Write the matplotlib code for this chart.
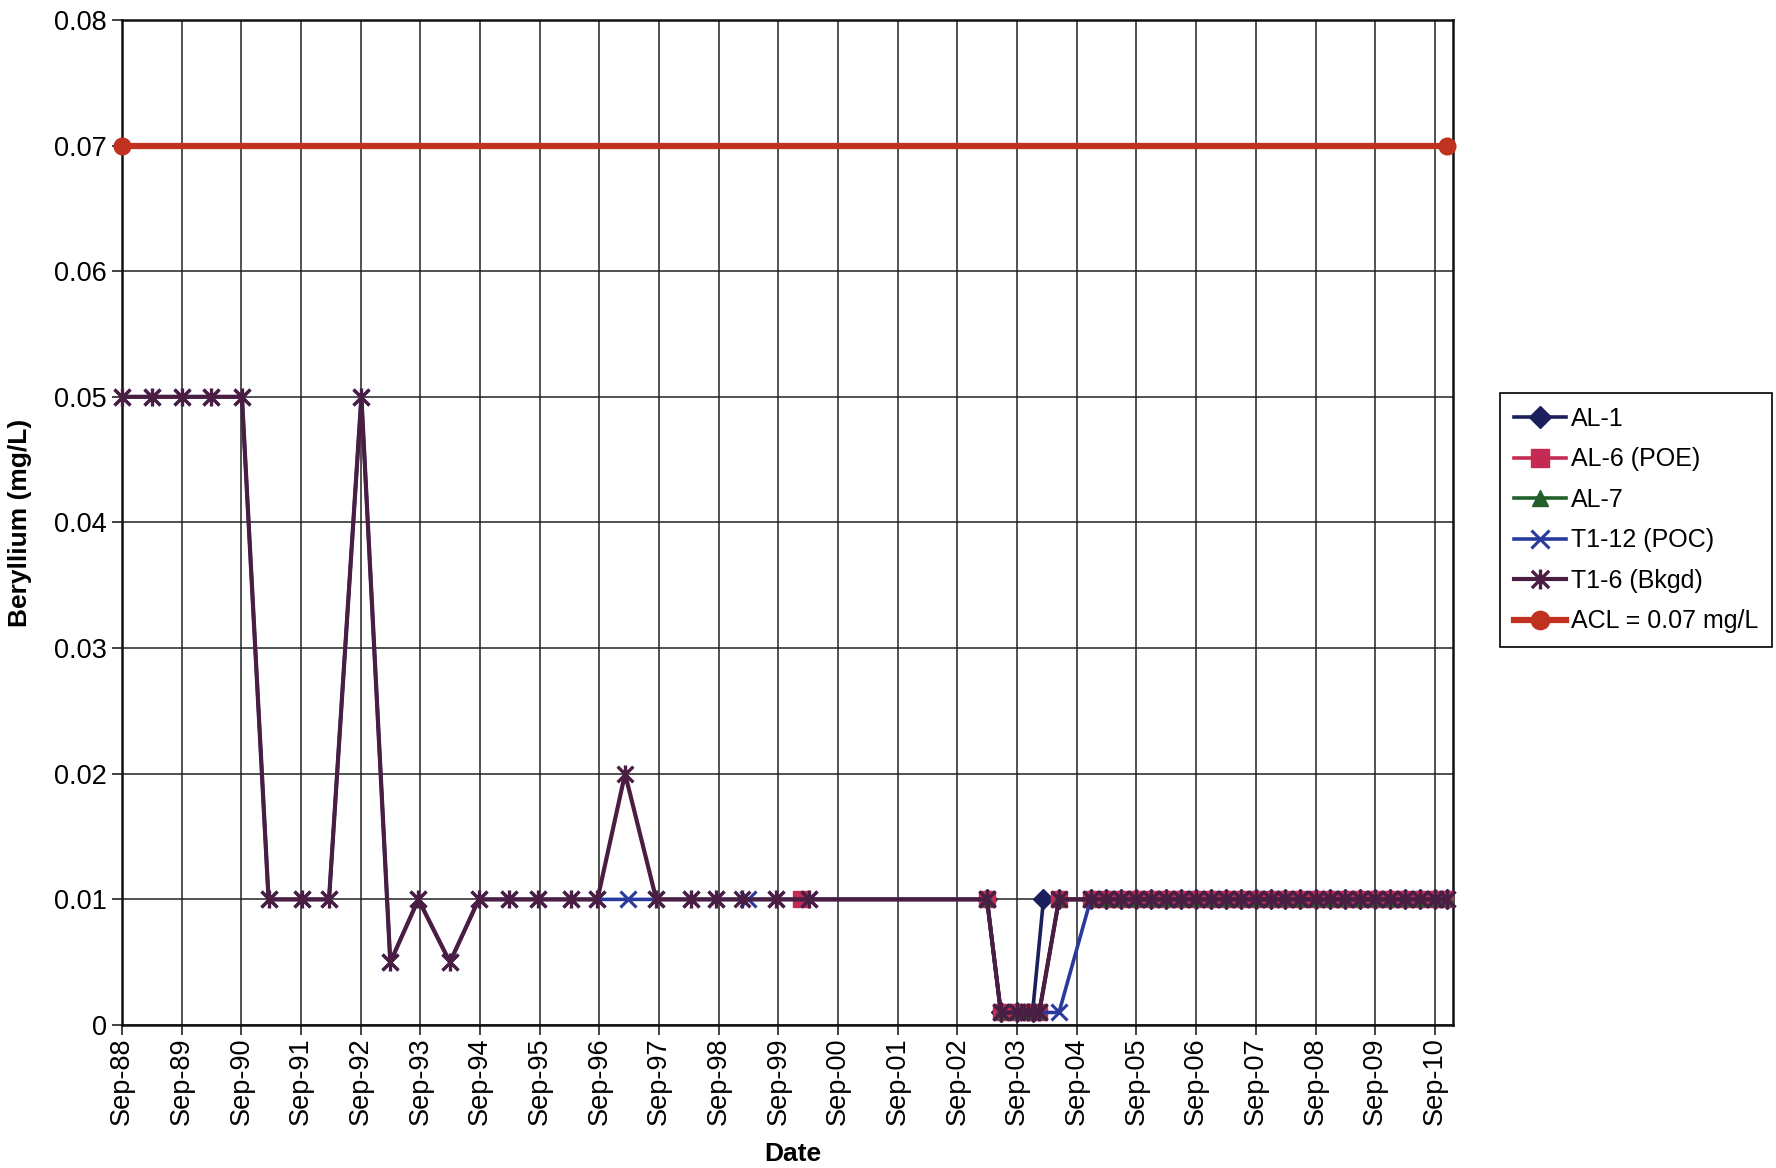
import matplotlib
matplotlib.use('Agg')
import matplotlib.pyplot as plt
from matplotlib.path import Path
import pandas as pd

plt.rcParams['font.family'] = ['Liberation Sans', 'DejaVu Sans']

# ---------------- data ----------------
tick_labels = ['Sep-88', 'Sep-89', 'Sep-90', 'Sep-91', 'Sep-92', 'Sep-93', 'Sep-94', 'Sep-95',
               'Sep-96', 'Sep-97', 'Sep-98', 'Sep-99', 'Sep-00', 'Sep-01', 'Sep-02', 'Sep-03',
               'Sep-04', 'Sep-05', 'Sep-06', 'Sep-07', 'Sep-08', 'Sep-09', 'Sep-10']
ytick_values = [0, 0.01, 0.02, 0.03, 0.04, 0.05, 0.06, 0.07, 0.08]
ytick_labels = ['0', '0.01', '0.02', '0.03', '0.04', '0.05', '0.06', '0.07', '0.08']

# quarterly monitoring (2004-2010), shared by all wells
tail_dates = ['2004-11-25', '2005-03-01', '2005-06-01', '2005-09-01', '2005-12-01',
              '2006-03-01', '2006-06-01', '2006-09-01', '2006-12-01', '2007-03-01',
              '2007-06-01', '2007-09-01', '2007-12-01', '2008-03-01', '2008-06-01',
              '2008-09-01', '2008-12-01', '2009-03-01', '2009-06-01', '2009-09-01',
              '2009-12-01', '2010-03-01', '2010-06-01', '2010-09-01', '2010-11-15']
tail_vals = [0.01, 0.01, 0.01, 0.01, 0.01, 0.01, 0.01, 0.01, 0.01, 0.01,
             0.01, 0.01, 0.01, 0.01, 0.01, 0.01, 0.01, 0.01, 0.01, 0.01,
             0.01, 0.01, 0.01, 0.01, 0.01]

# 2003-2004 non-detect period
mid_dates = ['2003-03-01', '2003-05-25', '2003-09-01', '2003-11-05', '2004-01-15', '2004-05-15']

al1_dates = ['2003-03-01', '2003-05-25', '2003-09-01', '2003-12-05', '2004-02-10', '2004-05-15'] + tail_dates
al1_vals = [0.01, 0.001, 0.001, 0.001, 0.01, 0.01] + tail_vals

al6_dates = ['2000-01-20'] + mid_dates + tail_dates
al6_vals = [0.01, 0.01, 0.001, 0.001, 0.001, 0.001, 0.01] + tail_vals

al7_dates = mid_dates + tail_dates
al7_vals = [0.01, 0.001, 0.001, 0.001, 0.001, 0.01] + tail_vals

t16_early_dates = ['1988-09-01', '1989-03-01', '1989-09-01', '1990-03-01', '1990-09-05',
                   '1991-02-15', '1991-09-05', '1992-02-20', '1992-09-05', '1993-03-01',
                   '1993-08-20', '1994-03-01', '1994-08-25', '1995-02-25', '1995-08-20',
                   '1996-03-10', '1996-08-20', '1997-02-05', '1997-08-15', '1998-03-15',
                   '1998-08-15', '1999-01-20', '1999-08-15', '2000-03-05']
t16_early_vals = [0.05, 0.05, 0.05, 0.05, 0.05, 0.01, 0.01, 0.01, 0.05, 0.005,
                  0.01, 0.005, 0.01, 0.01, 0.01, 0.01, 0.01, 0.02, 0.01, 0.01,
                  0.01, 0.01, 0.01, 0.01]
t16_dates = t16_early_dates + mid_dates + tail_dates
t16_vals = t16_early_vals + [0.01, 0.001, 0.001, 0.001, 0.001, 0.01] + tail_vals

t112_early_dates = ['1988-09-01', '1989-03-01', '1989-09-01', '1990-03-01', '1990-09-05',
                    '1991-02-15', '1991-09-05', '1992-02-20', '1992-09-05', '1993-03-01',
                    '1993-08-20', '1994-03-01', '1994-08-25', '1995-02-25', '1995-08-20',
                    '1996-03-10', '1996-08-20', '1997-02-25', '1997-08-15', '1998-03-15',
                    '1998-08-15', '1999-03-01', '1999-08-15', '2000-03-05']
t112_early_vals = [0.05, 0.05, 0.05, 0.05, 0.05, 0.01, 0.01, 0.01, 0.05, 0.005,
                   0.01, 0.005, 0.01, 0.01, 0.01, 0.01, 0.01, 0.01, 0.01, 0.01,
                   0.01, 0.01, 0.01, 0.01]
t112_dates = t112_early_dates + mid_dates + tail_dates
t112_vals = t112_early_vals + [0.01, 0.001, 0.001, 0.001, 0.001, 0.001] + tail_vals

acl_dates = ['1988-09-01', '2010-11-15']
acl_vals = [0.07, 0.07]

series_names = ['AL-1', 'AL-6 (POE)', 'AL-7', 'T1-12 (POC)', 'T1-6 (Bkgd)', 'ACL = 0.07 mg/L']

# ---------------- figure ----------------
fig = plt.figure(figsize=(17.76, 11.68), dpi=100)
ax = fig.add_axes([0.0687, 0.1224, 0.7493, 0.8606])

star = Path([(-1, -1), (1, 1), (-1, 1), (1, -1), (0, -1.15), (0, 1.15)],
            [Path.MOVETO, Path.LINETO, Path.MOVETO, Path.LINETO, Path.MOVETO, Path.LINETO])

def d(lst):
    return pd.to_datetime(lst)

ax.plot(d(al1_dates), al1_vals, color='#1B1F5C', lw=2.6, marker='D', ms=10,
        mfc='#1B1F5C', mec='#1B1F5C', label=series_names[0], zorder=3)
ax.plot(d(al6_dates), al6_vals, color='#C42A52', lw=2.6, marker='s', ms=12,
        mfc='#C42A52', mec='#C42A52', label=series_names[1], zorder=3)
ax.plot(d(al7_dates), al7_vals, color='#22602C', lw=2.6, marker='^', ms=10,
        mfc='#22602C', mec='#22602C', label=series_names[2], zorder=3)
ax.plot(d(t112_dates), t112_vals, color='#2A3A9C', lw=2.6, marker='x', ms=12, mew=2.2,
        label=series_names[3], zorder=3, clip_on=False)
ax.plot(d(t16_dates), t16_vals, color='#4A1D42', lw=3.0, marker=star, ms=13, mew=2.4,
        label=series_names[4], zorder=3, clip_on=False)
ax.plot(d(acl_dates), acl_vals, color='#C0321F', lw=4.5, marker='o', ms=12,
        label=series_names[5], zorder=4, clip_on=False)

ax.set_ylim(0, 0.08)
ax.set_xlim(pd.Timestamp('1988-09-01'), pd.Timestamp('2010-12-20'))
ax.set_yticks(ytick_values)
ax.set_yticklabels(ytick_labels)
tick_pos = pd.date_range('1988-09-01', periods=len(tick_labels), freq='12MS')
ax.set_xticks(tick_pos)
ax.set_xticklabels(tick_labels, rotation=90)

ax.tick_params(axis='both', labelsize=19.5, length=7, width=1.2, color='#222222', direction='out')
ax.tick_params(axis='x', pad=2)
ax.tick_params(axis='y', pad=4)
ax.grid(True, color='#222222', lw=1.1)
ax.set_axisbelow(True)
for sp in ax.spines.values():
    sp.set_linewidth(1.8)
    sp.set_color('#111111')

ax.set_ylabel('Beryllium (mg/L)', fontsize=19, fontweight='bold')
ax.yaxis.set_label_coords(-0.0676, 0.5)
ax.set_xlabel('Date', fontsize=19, fontweight='bold')
ax.xaxis.set_label_coords(0.504, -0.116)

leg = ax.legend(loc='upper left', bbox_to_anchor=(0.8445, 0.6635), bbox_transform=fig.transFigure,
                frameon=True, fancybox=False, edgecolor='black', framealpha=1, fontsize=18,
                handlelength=2.1, handletextpad=0.18, labelspacing=0.66, borderpad=0.55,
                borderaxespad=0, markerscale=1.1)
leg.get_frame().set_linewidth(1.2)

fig.savefig('out.png', dpi=100)
